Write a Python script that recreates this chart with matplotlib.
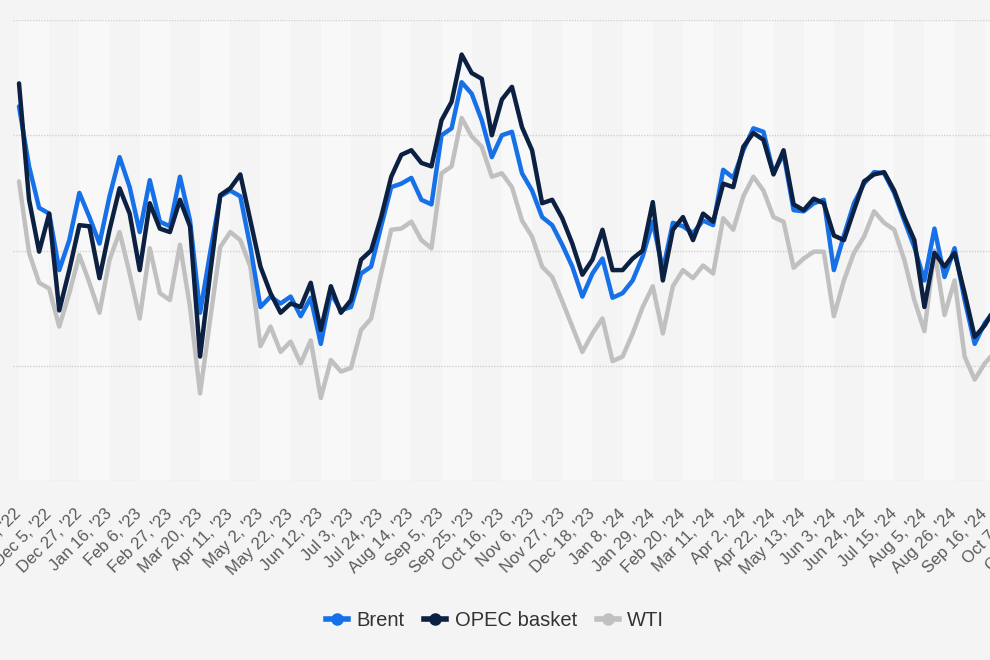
import numpy as np
import matplotlib
matplotlib.use('Agg')
import matplotlib.pyplot as plt
from matplotlib.lines import Line2D

# Weekly crude oil prices (USD per barrel), one value per week from Nov 14, '22
brent = [92.5, 87.3, 83.7, 83.2, 78.3, 80.9, 85.0, 82.9, 80.6, 84.7,
         88.1, 85.5, 81.6, 86.1, 82.5, 82.1, 86.4, 82.6, 74.6, 79.8,
         84.7, 85.2, 84.7, 80.3, 75.1, 76.0, 75.4, 76.0, 74.3, 75.9,
         71.9, 76.3, 74.8, 75.1, 78.0, 78.6, 82.1, 85.5, 85.8, 86.3,
         84.4, 84.0, 90.0, 90.6, 94.6, 93.6, 91.3, 88.1, 90.0, 90.3,
         86.7, 85.2, 82.9, 82.2, 80.5, 78.6, 76.0, 78.0, 79.3, 75.9,
         76.3, 77.4, 79.5, 82.5, 78.3, 82.4, 82.1, 81.5, 82.6, 82.2,
         87.0, 86.3, 88.7, 90.6, 90.3, 86.7, 88.4, 83.5, 83.4, 84.1,
         84.4, 78.3, 81.3, 84.1, 85.8, 86.8, 86.7, 85.0, 82.6, 80.3,
         77.4, 81.9, 77.7, 80.2, 75.7, 71.9, 73.7, 74.8]

opec = [94.5, 84.4, 79.9, 83.2, 74.8, 78.3, 82.2, 82.1, 77.6, 81.8,
        85.4, 83.2, 78.3, 84.1, 81.9, 81.6, 84.4, 82.1, 70.8, 78.0,
        84.8, 85.4, 86.6, 82.6, 78.6, 76.3, 74.6, 75.4, 75.1, 77.2,
        73.1, 76.9, 74.6, 75.7, 79.2, 80.0, 82.9, 86.4, 88.3, 88.7,
        87.6, 87.3, 91.3, 92.9, 97.0, 95.4, 94.9, 90.0, 93.1, 94.2,
        90.7, 88.7, 84.1, 84.4, 82.8, 80.6, 77.9, 79.2, 81.8, 78.3,
        78.3, 79.3, 80.0, 84.2, 77.4, 81.8, 82.9, 80.9, 83.2, 82.5,
        85.8, 85.5, 89.0, 90.2, 89.6, 86.6, 88.7, 84.0, 83.5, 84.5,
        84.1, 81.3, 80.9, 83.5, 86.0, 86.6, 86.8, 85.2, 82.9, 80.9,
        75.1, 79.8, 78.6, 79.8, 76.3, 72.5, 73.5, 75.0]

wti = [86.0, 79.8, 77.2, 76.7, 73.4, 76.3, 79.6, 77.2, 74.6, 79.2,
       81.6, 78.0, 74.1, 80.2, 76.3, 75.7, 80.5, 75.1, 67.6, 74.0,
       80.3, 81.6, 80.9, 78.6, 71.7, 73.4, 71.2, 72.1, 70.2, 72.2,
       67.2, 70.5, 69.5, 69.8, 73.1, 74.1, 78.0, 81.8, 81.9, 82.5,
       80.9, 80.2, 86.7, 87.3, 91.5, 89.9, 89.0, 86.4, 86.7, 85.5,
       82.6, 81.2, 78.6, 77.7, 75.6, 73.4, 71.2, 72.8, 74.1, 70.4,
       70.8, 72.8, 75.1, 76.9, 72.8, 76.9, 78.3, 77.6, 78.7, 78.0,
       82.8, 81.8, 84.7, 86.4, 85.2, 82.9, 82.5, 78.5, 79.3, 79.9,
       79.9, 74.3, 77.4, 79.8, 81.2, 83.4, 82.4, 81.8, 79.2, 75.7,
       73.0, 80.0, 74.4, 77.4, 70.8, 68.8, 70.2, 71.2]

# tick labels, one every third week
etiquetas = ["Nov 14, '22", "Dec 5, '22", "Dec 27, '22", "Jan 16, '23", "Feb 6, '23",
             "Feb 27, '23", "Mar 20, '23", "Apr 11, '23", "May 2, '23", "May 22, '23",
             "Jun 12, '23", "Jul 3, '23", "Jul 24, '23", "Aug 14, '23", "Sep 5, '23",
             "Sep 25, '23", "Oct 16, '23", "Nov 6, '23", "Nov 27, '23", "Dec 18, '23",
             "Jan 8, '24", "Jan 29, '24", "Feb 20, '24", "Mar 11, '24", "Apr 2, '24",
             "Apr 22, '24", "May 13, '24", "Jun 3, '24", "Jun 24, '24", "Jul 15, '24",
             "Aug 5, '24", "Aug 26, '24", "Sep 16, '24", "Oct 7, '24", "Oct 28, '24"]

plt.rcParams['font.family'] = ['Liberation Sans', 'DejaVu Sans']

fondo = '#f4f4f4'
c_brent = '#1670e8'
c_opec = '#0c2141'
c_wti = '#c0c0c0'

fig = plt.figure(figsize=(9.9, 6.6), dpi=100, facecolor=fondo)
# the chart is cropped: the plot area runs past the right edge of the picture
paso = 10.06  # px per week
izq_px, der_px = 13, 1100
x0 = -(19 - izq_px) / paso
x1 = x0 + (der_px - izq_px) / paso
ax = fig.add_axes([izq_px / 990, 179 / 660, (der_px - izq_px) / 990, 461 / 660])
ax.set_facecolor(fondo)
ax.set_xlim(x0, x1)
ax.set_ylim(60, 100)

# faint vertical bands
for k in range(0, 108, 6):
    ax.axvspan(k, k + 3, color='#f8f8f8', lw=0, zorder=0)

for v in [60, 70, 80, 90, 100]:
    ax.axhline(v, color='#d2d2d2', lw=1, ls=(0, (1, 1)), zorder=1)

x = np.arange(len(brent))
ax.plot(x, wti, color=c_wti, lw=3.2, solid_joinstyle='round', solid_capstyle='round', zorder=3)
ax.plot(x, brent, color=c_brent, lw=3.2, solid_joinstyle='round', solid_capstyle='round', zorder=4)
ax.plot(x, opec, color=c_opec, lw=3.2, solid_joinstyle='round', solid_capstyle='round', zorder=5)

ax.set_xticks(np.arange(len(etiquetas)) * 3)
ax.set_xticklabels(etiquetas, rotation=45, ha='right', va='center', rotation_mode='anchor',
                   fontsize=12, color='#5a5a5a')
ax.tick_params(axis='x', length=0, pad=22)
ax.set_yticks([])
for s in ax.spines.values():
    s.set_visible(False)

manijas = [
    Line2D([], [], color=c_brent, lw=4, marker='o', markersize=8),
    Line2D([], [], color=c_opec, lw=4, marker='o', markersize=8),
    Line2D([], [], color=c_wti, lw=4, marker='o', markersize=8),
]
ley = fig.legend(manijas, ['Brent', 'OPEC basket', 'WTI'], loc='center',
                 bbox_to_anchor=(0.5, 0.06), ncol=3, frameon=False, fontsize=14.5,
                 handlelength=1.1, handletextpad=0.4, columnspacing=1.0)
for t in ley.get_texts():
    t.set_color('#333333')

fig.savefig('out.png', dpi=100, facecolor=fondo)
